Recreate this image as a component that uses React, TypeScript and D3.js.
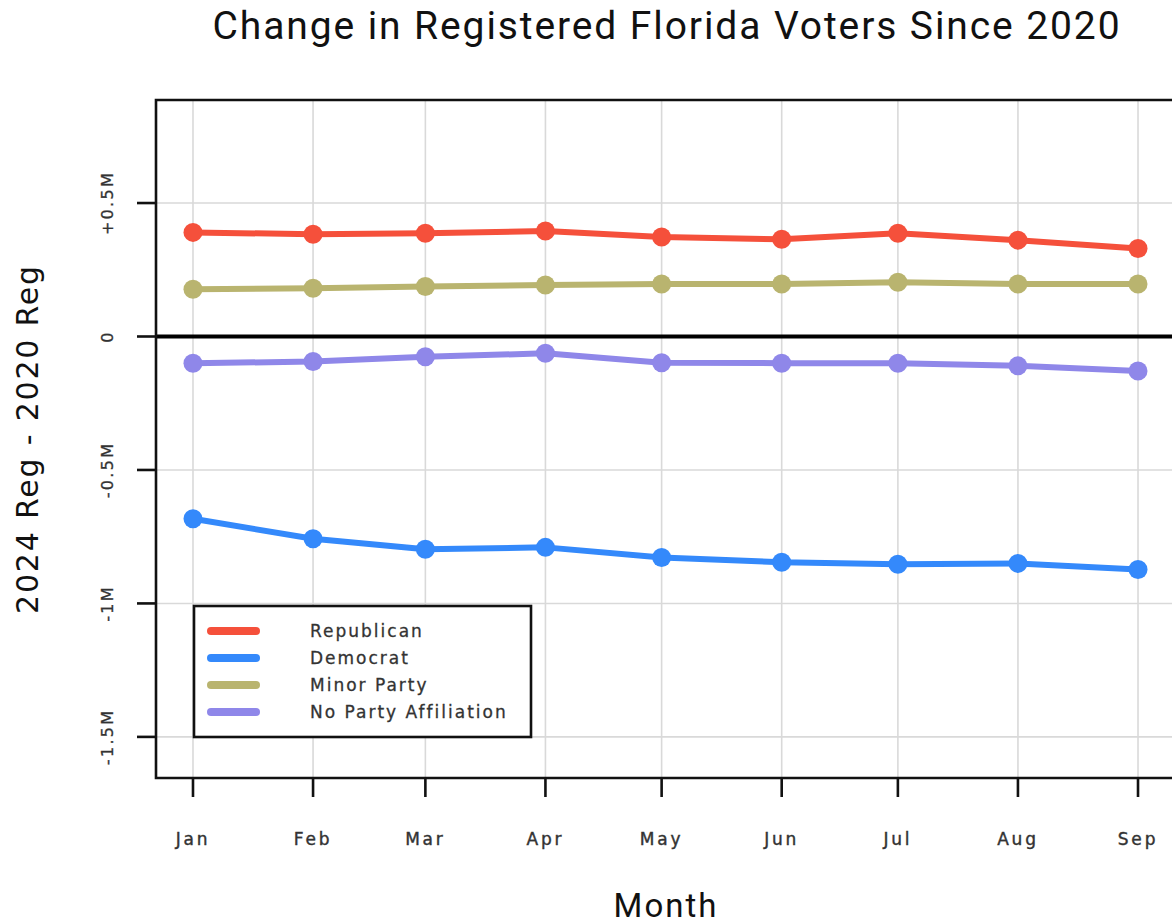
import React from 'react'
import * as d3 from 'd3'

// monthly snapshots, 2024 registration minus 2020 registration (millions)
const months = ['Jan', 'Feb', 'Mar', 'Apr', 'May', 'Jun', 'Jul', 'Aug', 'Sep']
const republican = [0.390, 0.383, 0.387, 0.395, 0.373, 0.364, 0.387, 0.361, 0.330]
const democrat = [-0.683, -0.758, -0.797, -0.790, -0.828, -0.846, -0.853, -0.850, -0.873]
const minorParty = [0.177, 0.181, 0.187, 0.193, 0.197, 0.197, 0.203, 0.197, 0.197]
const noParty = [-0.100, -0.094, -0.076, -0.063, -0.098, -0.100, -0.100, -0.110, -0.129]

const seriesNames = ['Republican', 'Democrat', 'Minor Party', 'No Party Affiliation']
const seriesColors = ['#f5503b', '#3489fb', '#b9b46f', '#8f87e9']
const seriesValues = [republican, democrat, minorParty, noParty]

const yTicks = [0.5, 0, -0.5, -1, -1.5]
const yTickLabels = ['+0.5M', '0', '-0.5M', '-1M', '-1.5M']

const width = 1172
const height = 924
const plotLeft = 156
const plotRight = 1175
const plotTop = 100
const plotBottom = 778

const DAY = 864e5
const dates = months.map((_, i) => new Date(Date.UTC(2024, i, 1)))
const padDays = 9.55

const x = d3.scaleUtc()
  .domain([new Date(+dates[0] - padDays * DAY), new Date(+dates[dates.length - 1] + padDays * DAY)])
  .range([plotLeft, plotRight])

const y = d3.scaleLinear()
  .domain([-1.654, 0.886])
  .range([plotBottom, plotTop])

const font = '"DejaVu Sans", sans-serif'

export default function App() {
  const line = d3.line<number>()
    .x((_, i) => x(dates[i]))
    .y(d => y(d))

  return (
    <svg width={width} height={height} viewBox={`0 0 ${width} ${height}`}
      style={{ position: 'absolute', left: 0, top: 0, background: '#fff' }}>
      <text x={667} y={39} textAnchor="middle" fontFamily="Roboto, sans-serif" fontSize={39}
        fill="#111" letterSpacing={1.9}>Change in Registered Florida Voters Since 2020</text>

      {/* grid */}
      <g stroke="#d9d9d9" strokeWidth={1.6}>
        {dates.map((d, i) => (
          <line key={'v' + i} x1={x(d)} x2={x(d)} y1={plotTop} y2={plotBottom} />
        ))}
        {yTicks.filter(t => t !== 0).map(t => (
          <line key={'h' + t} x1={plotLeft} x2={plotRight} y1={y(t)} y2={y(t)} />
        ))}
      </g>

      {/* zero line */}
      <line x1={plotLeft} x2={plotRight} y1={y(0)} y2={y(0)} stroke="#000" strokeWidth={4} />

      {/* series */}
      {seriesValues.map((vals, s) => (
        <g key={seriesNames[s]}>
          <path d={line(vals) || ''} fill="none" stroke={seriesColors[s]} strokeWidth={6}
            strokeLinejoin="round" />
          {vals.map((v, i) => (
            <circle key={i} cx={x(dates[i])} cy={y(v)} r={9.5} fill={seriesColors[s]} />
          ))}
        </g>
      ))}

      {/* frame */}
      <path d={`M${plotRight},${plotTop}H${plotLeft}V${plotBottom}H${plotRight}`}
        fill="none" stroke="#111" strokeWidth={2.6} />

      {/* y axis */}
      {yTicks.map((t, i) => (
        <g key={'yt' + t}>
          <line x1={plotLeft - 19} x2={plotLeft} y1={y(t)} y2={y(t)} stroke="#111" strokeWidth={2.6} />
          <text transform={`translate(107,${y(t)}) rotate(-90)`} textAnchor="middle" dy="0.35em"
            fontFamily={font} fontSize={16} fill="#333" stroke="#333" strokeWidth={0.3}
            letterSpacing={2.3}>{yTickLabels[i]}</text>
        </g>
      ))}

      {/* x axis */}
      {dates.map((d, i) => (
        <g key={'xt' + i}>
          <line x1={x(d)} x2={x(d)} y1={plotBottom} y2={plotBottom + 19} stroke="#111" strokeWidth={2.6} />
          <text x={x(d)} y={845} textAnchor="middle" fontFamily={font} fontSize={17}
            fill="#333" stroke="#333" strokeWidth={0.4} letterSpacing={2.8}>{months[i]}</text>
        </g>
      ))}

      <text x={666} y={917} textAnchor="middle" fontFamily="Roboto, sans-serif" fontSize={33}
        fill="#111" letterSpacing={2}>Month</text>
      <text transform={`translate(38,${(plotTop + plotBottom) / 2}) rotate(-90)`} textAnchor="middle"
        fontFamily='"DejaVu Sans", sans-serif' fontSize={30} fill="#111" letterSpacing={1.8}>2024 Reg - 2020 Reg</text>

      {/* legend */}
      <g>
        <rect x={194} y={606} width={337} height={131} fill="#fff" stroke="#111" strokeWidth={2.6} />
        {seriesNames.map((name, i) => (
          <g key={'lg' + name} transform={`translate(0,${631 + i * 27})`}>
            <line x1={211} x2={256} y1={0} y2={0} stroke={seriesColors[i]} strokeWidth={8}
              strokeLinecap="round" />
            <text x={310} y={0} dy="0.35em" fontFamily={font} fontSize={17} fill="#333"
              stroke="#333" strokeWidth={0.3} letterSpacing={2}>{name}</text>
          </g>
        ))}
      </g>
    </svg>
  )
}
